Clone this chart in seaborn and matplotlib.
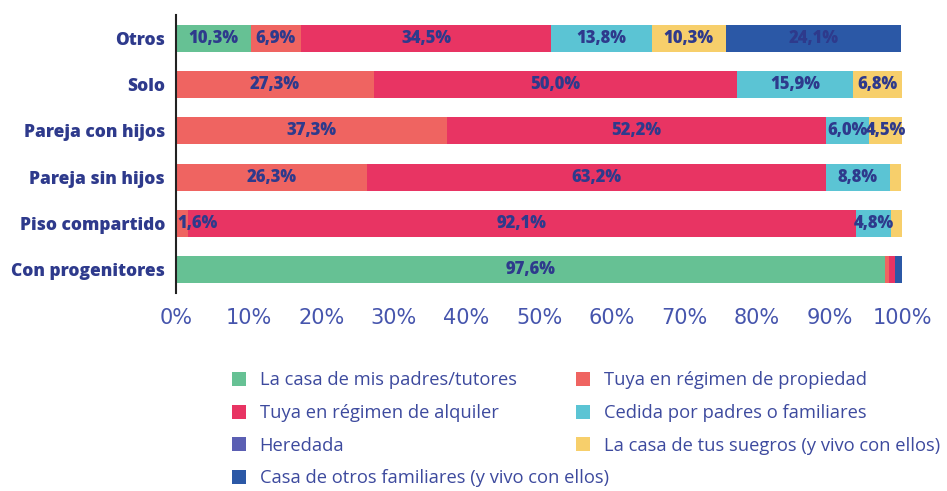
import numpy as np
import pandas as pd
import matplotlib
matplotlib.use("Agg")
import matplotlib.pyplot as plt
from matplotlib.patches import Patch
import seaborn as sns

categories = ["Otros", "Solo", "Pareja con hijos", "Pareja sin hijos",
              "Piso compartido", "Con progenitores"]
series_names = ["La casa de mis padres/tutores", "Tuya en régimen de propiedad",
                "Tuya en régimen de alquiler", "Cedida por padres o familiares",
                "Heredada", "La casa de tus suegros (y vivo con ellos)",
                "Casa de otros familiares (y vivo con ellos)"]
padres = [10.3, 0.0, 0.0, 0.0, 0.0, 97.6]
propiedad = [6.9, 27.3, 37.3, 26.3, 1.6, 0.6]
alquiler = [34.5, 50.0, 52.2, 63.2, 92.1, 0.9]
cedida = [13.8, 15.9, 6.0, 8.8, 4.8, 0.0]
heredada = [0.0, 0.0, 0.0, 0.0, 0.0, 0.0]
suegros = [10.3, 6.8, 4.5, 1.5, 1.5, 0.0]
otros_fam = [24.1, 0.0, 0.0, 0.0, 0.0, 0.9]
xtick_vals = [0, 10, 20, 30, 40, 50, 60, 70, 80, 90, 100]

colors = ["#66c194", "#ef6461", "#e83463", "#5bc4d4", "#5b5fb3", "#f7cf6b", "#2b58a6"]
label_color = "#2e3a8c"
tick_color = "#4655ad"
legend_color = "#3d4a9e"

sns.set_theme(style="white")
plt.rcParams["font.family"] = ["Open Sans", "DejaVu Sans"]

series = [padres, propiedad, alquiler, cedida, heredada, suegros, otros_fam]
vals = np.array(series, dtype=float)
cum = np.cumsum(vals, axis=0)

fig = plt.figure(figsize=(9.47, 4.91), dpi=100)
ax = fig.add_axes([176 / 947, 1 - 293 / 491, 726 / 947, 278 / 491])

for i in range(len(series) - 1, -1, -1):
    df = pd.DataFrame({"cat": categories, "val": cum[i]})
    sns.barplot(data=df, y="cat", x="val", color=colors[i], orient="h",
                width=0.58, linewidth=0, saturation=1, ax=ax, errorbar=None)

for i in range(len(series)):
    for j in range(len(categories)):
        v = vals[i, j]
        if v >= 1.6:
            txt = f"{v:.1f}%".replace(".", ",")
            center = cum[i, j] - v / 2
            if center < 3:
                ax.text(cum[i, j] - v + 0.2, j, txt, ha="left", va="center",
                        fontsize=12, fontweight=800, color=label_color)
            else:
                ax.text(center, j, txt, ha="center", va="center", fontsize=12,
                        fontweight=800, color=label_color)

ax.set_xlim(0, 100)
ax.set_ylim(5.5, -0.5)
ax.set_xlabel("")
ax.set_ylabel("")
ax.set_xticks(xtick_vals)
ax.set_xticklabels([f"{v}%" for v in xtick_vals], fontsize=15, color=tick_color,
                   family="DejaVu Sans")
ax.tick_params(axis="x", length=0, pad=11)
ax.tick_params(axis="y", length=0, pad=8)
for lab in ax.get_yticklabels():
    lab.set_fontsize(12.5)
    lab.set_fontweight(800)
    lab.set_color(label_color)
for s in ["top", "right", "bottom"]:
    ax.spines[s].set_visible(False)
ax.spines["left"].set_color("#222222")
ax.spines["left"].set_linewidth(1.5)

order1 = [0, 2, 4, 6]
order2 = [1, 3, 5]
for order, x0 in [(order1, 225 / 947), (order2, 569 / 947)]:
    handles = [Patch(facecolor=colors[k], edgecolor="none", label=series_names[k]) for k in order]
    leg = fig.legend(handles=handles, loc="upper left", bbox_to_anchor=(x0, 1 - 364 / 491),
                     ncol=1, frameon=False, fontsize=13.2, handlelength=0.77, handleheight=0.82,
                     handletextpad=0.72, labelspacing=0.8, borderaxespad=0)
    for t in leg.get_texts():
        t.set_color(legend_color)

fig.savefig("out.png", dpi=100)
